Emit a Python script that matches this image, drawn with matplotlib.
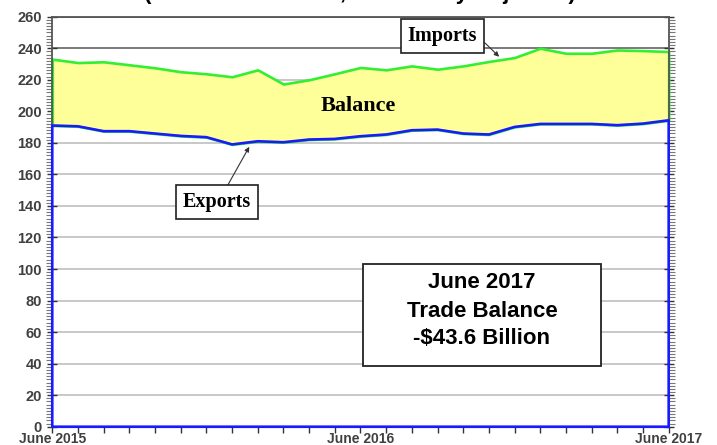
import numpy as np
import matplotlib.pyplot as plt
from matplotlib.patches import Rectangle
from matplotlib.ticker import MultipleLocator

# monthly goods and services trade, billions of dollars, seasonally adjusted
months = ["Jun 2015", "Jul 2015", "Aug 2015", "Sep 2015", "Oct 2015", "Nov 2015",
          "Dec 2015", "Jan 2016", "Feb 2016", "Mar 2016", "Apr 2016", "May 2016",
          "Jun 2016", "Jul 2016", "Aug 2016", "Sep 2016", "Oct 2016", "Nov 2016",
          "Dec 2016", "Jan 2017", "Feb 2017", "Mar 2017", "Apr 2017", "May 2017",
          "Jun 2017"]
imports = [233.1, 230.9, 231.4, 229.5, 227.6, 225.1, 223.8, 221.9, 226.3, 217.3,
           220.0, 223.8, 227.8, 226.3, 228.8, 226.7, 228.8, 231.6, 234.1, 240.0,
           236.8, 236.8, 238.9, 238.5, 237.9]
exports = [191.0, 190.5, 187.4, 187.4, 185.9, 184.4, 183.6, 179.0, 181.0, 180.4,
           182.1, 182.5, 184.2, 185.3, 188.0, 188.4, 185.9, 185.3, 190.1, 192.0,
           192.0, 192.0, 191.2, 192.2, 194.3]
tick_months = [0, 12, 24]
tick_labels = ["June 2015", "June 2016", "June 2017"]

plt.rcParams["font.family"] = ["Liberation Sans", "DejaVu Sans"]

x = np.arange(len(months))
fig = plt.figure(figsize=(7.17, 4.45), dpi=100)
ax = fig.add_axes([0.0729, 0.0411, 0.8597, 0.9214])

# balance area (imports above exports), then the exports outline on top
ax.fill_between(x, exports, imports, facecolor="#ffff99", edgecolor="#33ee33",
                linewidth=1.9, zorder=2, clip_on=False)
ax.fill_between(x, 0, exports, facecolor="none", edgecolor="#1a1aff",
                linewidth=1.9, zorder=3, clip_on=False)

ax.set_xlim(0, len(months) - 1)
ax.set_ylim(0, 260)

ax.yaxis.set_major_locator(MultipleLocator(20))
ax.yaxis.set_minor_locator(MultipleLocator(2))
ax.set_xticks(x, minor=True)
ax.set_xticks(tick_months)
ax.set_xticklabels(tick_labels)

ax.grid(axis="y", color="#c4c4c4", linewidth=1.3)
ax.set_axisbelow(True)
for val, gl in zip(ax.get_yticks(), ax.yaxis.get_gridlines()):
    if val >= 240:
        gl.set_color("#707070")

ax.tick_params(axis="y", which="major", direction="inout", length=7, width=1,
               left=True, right=True, labelsize=10.5, labelcolor="#404040",
               color="#333333", pad=4)
ax.tick_params(axis="y", which="minor", direction="out", length=4, width=0.8,
               left=True, right=True, color="#777777")
ax.tick_params(axis="x", which="both", direction="out", length=4, width=1,
               labelsize=10, labelcolor="#404040", color="#333333", pad=0)
for lab in ax.get_xticklabels() + ax.get_yticklabels():
    lab.set_fontweight("bold")

for s in ["left", "top", "right"]:
    ax.spines[s].set_color("#555555")
    ax.spines[s].set_linewidth(1.3)
ax.spines["bottom"].set_color("#1a1aff")

# subtitle sits above the top edge, only its descenders show
fig.text(0.502, 1.003, "(Billions of Dollars, Seasonally Adjusted)", ha="center",
         va="baseline", fontsize=16, fontweight="bold")

serif = ["Liberation Serif", "DejaVu Serif"]
box = dict(boxstyle="square,pad=0.35", facecolor="white", edgecolor="#202020",
           linewidth=1.2)
ax.annotate("Imports", xy=(17.4, 234.6), xytext=(0.633, 0.952),
            textcoords="axes fraction", ha="center", va="center",
            fontsize=14.5, fontweight="bold", family=serif, bbox=box,
            arrowprops=dict(arrowstyle="-|>", color="#333333", lw=0.8,
                            mutation_scale=7, relpos=(1, 0.55),
                            shrinkA=0, shrinkB=0))
ax.annotate("Exports", xy=(7.67, 177.5), xytext=(0.267, 0.547),
            textcoords="axes fraction", ha="center", va="center",
            fontsize=14.5, fontweight="bold", family=serif, bbox=box,
            arrowprops=dict(arrowstyle="-|>", color="#333333", lw=0.8,
                            mutation_scale=7, relpos=(0.6, 1),
                            shrinkA=0, shrinkB=0))
ax.text(0.496, 0.782, "Balance", transform=ax.transAxes, ha="center",
        va="center", fontsize=16, fontweight="bold", family=serif, zorder=4)

# summary box
ax.add_patch(Rectangle((0.5036, 0.148), 0.3874, 0.249, transform=ax.transAxes,
                       facecolor="white", edgecolor="#222222", linewidth=1.3,
                       zorder=5))
balance = imports[-1] - exports[-1]
lines = ["June 2017", "Trade Balance", "-$%.1f Billion" % balance]
for ty, line in zip([0.3505, 0.282, 0.2159], lines):
    ax.text(0.697, ty, line, transform=ax.transAxes, ha="center", va="center",
            fontsize=16, fontweight="bold", zorder=6)

fig.savefig("out.png", dpi=100)
